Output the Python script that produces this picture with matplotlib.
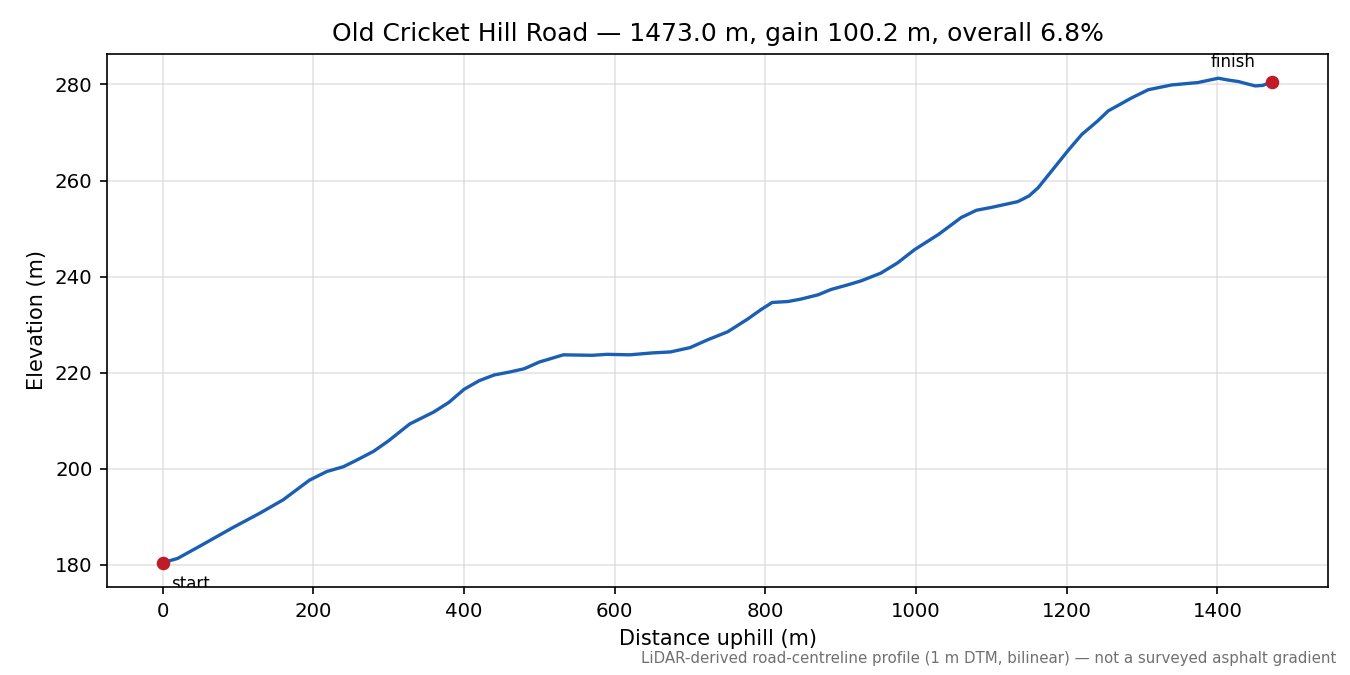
import matplotlib
matplotlib.use("Agg")
import matplotlib.pyplot as plt

distance_m = [0, 20, 50, 93, 130, 160, 195, 218, 240, 258, 280, 300, 328, 360, 380,
              400, 420, 440, 460, 480, 500, 532, 570, 590, 620, 650, 674, 700, 723,
              750, 776, 795, 809, 830, 847, 870, 887, 910, 927, 953, 975, 998, 1030,
              1060, 1080, 1100, 1135, 1150, 1162, 1180, 1202, 1220, 1241, 1255, 1270,
              1286, 1308, 1339, 1374, 1401, 1415, 1428, 1440, 1450, 1460, 1473]
elevation_m = [180.4, 181.3, 183.9, 187.7, 190.8, 193.5, 197.6, 199.4, 200.4, 201.8,
               203.6, 205.8, 209.3, 211.8, 213.8, 216.5, 218.3, 219.5, 220.1, 220.8,
               222.2, 223.7, 223.6, 223.8, 223.7, 224.1, 224.3, 225.2, 226.8, 228.5,
               231.1, 233.2, 234.6, 234.8, 235.3, 236.2, 237.3, 238.3, 239.1, 240.7,
               242.8, 245.6, 248.8, 252.3, 253.8, 254.4, 255.6, 256.8, 258.5, 262.0,
               266.3, 269.6, 272.4, 274.5, 275.8, 277.2, 278.9, 279.9, 280.4, 281.3,
               280.9, 280.6, 280.1, 279.7, 279.8, 280.6]

title = "Old Cricket Hill Road — 1473.0 m, gain 100.2 m, overall 6.8%"
footnote = "LiDAR-derived road-centreline profile (1 m DTM, bilinear) — not a surveyed asphalt gradient"

fig = plt.figure(figsize=(9, 4.5), dpi=150)
ax = fig.add_axes([0.0793, 0.1304, 0.9044, 0.7896])
ax.plot(distance_m, elevation_m, color="#1a5fb4", lw=1.6, zorder=3,
        solid_joinstyle="round")
ax.plot([distance_m[0], distance_m[-1]], [elevation_m[0], elevation_m[-1]], "o",
        color="#c01c28", ms=5.5, zorder=4)
ax.annotate("start", (distance_m[0], elevation_m[0]), xytext=(4, -6),
            textcoords="offset points", ha="left", va="top", fontsize=8, clip_on=True)
ax.annotate("finish", (distance_m[-1], elevation_m[-1]), xytext=(-8, 5),
            textcoords="offset points", ha="right", va="bottom", fontsize=8)
ax.grid(True, color="#cccccc", alpha=0.5, lw=0.8)
ax.set_axisbelow(True)
ax.tick_params(labelsize=9.5)
ax.set_xlabel("Distance uphill (m)", fontsize=10)
ax.set_ylabel("Elevation (m)", fontsize=10)
ax.set_title(title, fontsize=12)
fig.text(0.99, 0.013, footnote, ha="right", va="bottom", fontsize=7.2, color="#707070")
fig.savefig("out.png", dpi=150)
